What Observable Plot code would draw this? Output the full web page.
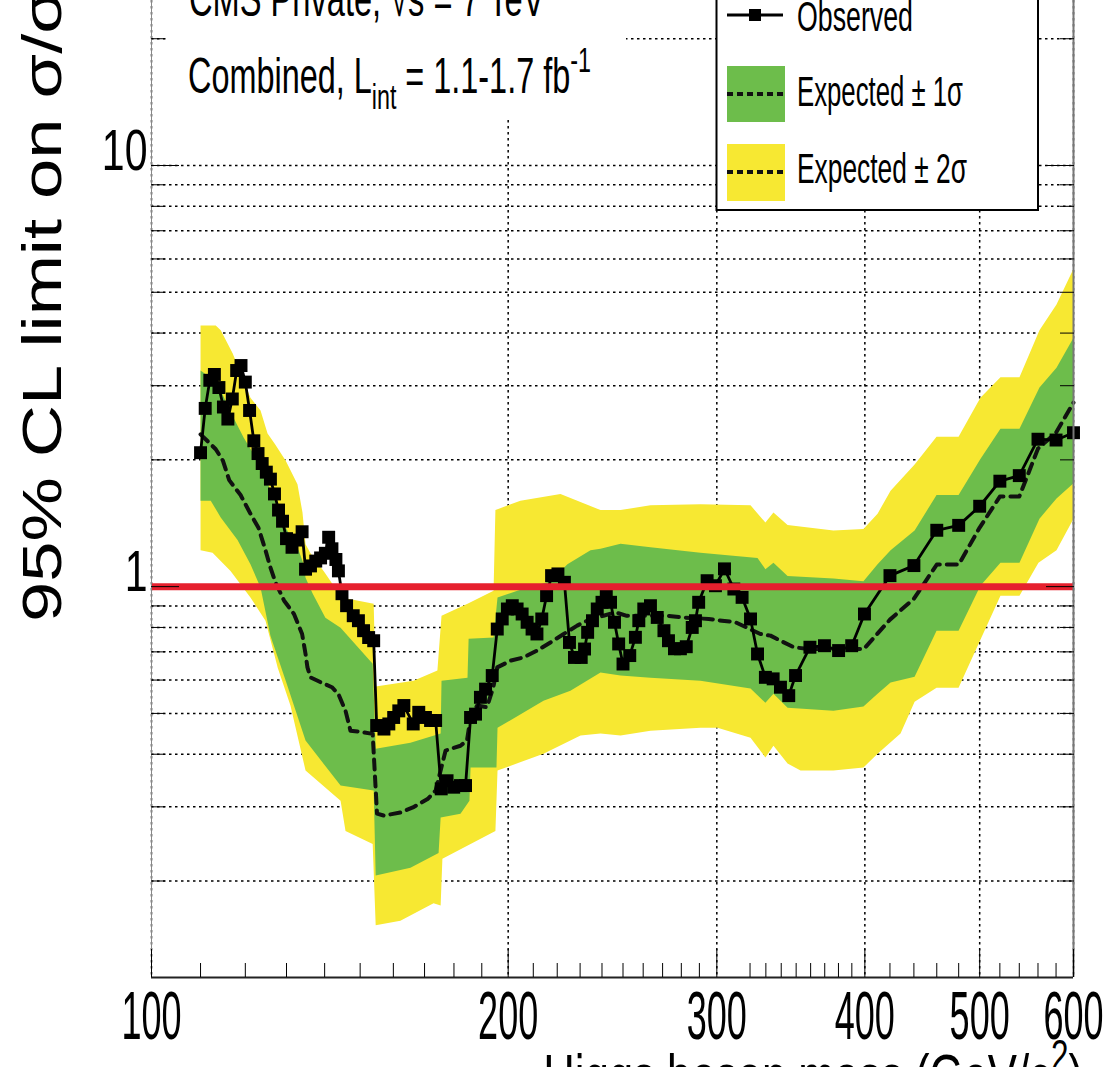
<!DOCTYPE html>
<html><head><meta charset="utf-8">
<script src="https://cdn.jsdelivr.net/npm/d3@7"></script>
<script src="https://cdn.jsdelivr.net/npm/@observablehq/plot@0.6"></script>
<style>
html,body{margin:0;padding:0;background:#fff;overflow:hidden;}
#chart{position:relative;width:1118px;height:1067px;overflow:hidden;}
</style></head><body><div id="chart"></div>
<script>
// ---------- axis settings ----------
const xDomain = [100, 600];
const yDomain = [0.118, 24.65];
const xMajorTicks = [100, 200, 300, 400, 500, 600];
const xMinorTicks = [110,120,130,140,150,160,170,180,190,210,220,230,240,250,260,270,280,290,320,330,340,350,360,370,380,390,420,440,460,480,520,540,560,580];
const yMajorTicks = [1, 10];
const yMinorTicks = [0.2,0.3,0.4,0.5,0.6,0.7,0.8,0.9,2,3,4,5,6,7,8,9,20];

// ---------- observed limit ----------
const obsMass = [110,111,112,113,114,115,116,117,118,119,120,121,122,123,124,125,126,127,128,129,130,131.4,132.7,134,134.9,136.2,137.6,138.9,140.2,141.1,142,143.1,143.8,144.8,146.1,148,149.5,151,152.5,154,
154.9,157.1,158.6,160.1,161.7,163.3,166.3,168.1,170.3,172,173.7,175.6,177.6,179.9,182.3,184.1,185.9,187.7,189.5,191.4,193.9,195.8,197.7,199.7,
201.6,203.5,205.5,207.5,209.5,211.5,213.5,215.5,217.6,220.3,223.1,225.3,227.5,230.5,232,233.4,235.6,237.8,240,242,244,245.9,247.9,250,253.3,256.1,257.8,260.3,263.7,267.2,270.7,273.1,276.3,279.5,282.7,286,287.8,289.6,294.4,299.2,
304.5,310.1,315.1,320.3,324.7,329.7,334.7,339.5,345,349.6,359.5,369.8,380.1,389.9,399.7,420,440,460,480,500,520,540,560,580,600];
const obsLimit = [2.08,2.65,3.09,3.19,2.97,2.67,2.50,2.79,3.26,3.35,3.06,2.62,2.22,2.07,1.96,1.87,1.80,1.66,1.52,1.43,1.30,1.24,1.29,1.35,1.10,1.12,1.15,1.17,1.20,1.31,1.23,1.16,1.09,0.962,0.901,0.853,0.830,0.786,0.757,0.744,
0.468,0.459,0.472,0.489,0.507,0.522,0.472,0.503,0.489,0.481,0.481,0.331,0.346,0.334,0.337,0.337,0.489,0.498,0.546,0.571,0.615,0.793,0.838,0.885,
0.901,0.885,0.861,0.823,0.793,0.772,0.838,0.952,1.062,1.072,1.024,0.737,0.679,0.679,0.711,0.779,0.830,0.885,0.918,0.96,0.918,0.823,0.731,0.655,0.686,0.758,0.830,0.885,0.901,0.845,0.786,0.744,0.712,0.712,0.720,0.80,0.830,0.918,1.033,1.005,
1.102,0.987,0.943,0.838,0.692,0.609,0.604,0.577,0.551,0.615,0.718,0.724,0.705,0.724,0.861,1.062,1.122,1.361,1.398,1.552,1.780,1.835,2.239,2.229,2.32];

// ---------- expected (median) limit ----------
const expMass = [110,113.3,114.9,116.3,118.9,121.2,123.1,124.8,126,127.3,129.4,131.9,134,134.9,135.4,136.2,138.9,142,143.8,145.8,147.2,151,153.7,
155,157.1,162.3,166.2,171,173.7,177.1,182.3,184.6,185.9,188.3,191.9,194.3,195.8,200.9,206,211.5,217.1,222.8,228.7,234.7,240.7,246.4,251.5,272.5,280.6,295.3,303,311.1,326.5,333,339.5,348.4,358.6,376.5,399.2,420,440,460,480,500,520,540,560,580,600];
const expLimit = [2.30,2.12,1.99,1.79,1.65,1.49,1.38,1.22,1.11,1.02,0.926,0.861,0.772,0.692,0.643,0.609,0.593,0.577,0.556,0.507,0.455,0.451,0.447,
0.289,0.286,0.291,0.299,0.313,0.328,0.408,0.419,0.431,0.489,0.522,0.517,0.577,0.643,0.667,0.679,0.705,0.737,0.772,0.808,0.838,0.853,0.869,0.853,0.853,0.845,0.838,0.830,0.823,0.772,0.765,0.744,0.718,0.711,0.711,0.711,0.835,0.936,1.128,1.128,1.381,1.636,1.636,2.127,2.322,2.735];

// ---------- +2 sigma edge ----------
const up2Mass = [110,113.3,114.4,117.1,121.2,123.6,125.3,127.1,129.8,132.8,134.1,134.9,136.2,140,144.7,154.0,154.6,166.4,174.3,175.7,184.8,194.4,195.1,204.8,221.4,239.3,248.8,263.7,290.6,320.3,329.7,334.9,344.2,376.3,398.9,410.0,420.5,440.6,459.8,479.9,500.7,520.6,540.2,561.6,580.5,600];
const up2Limit = [4.17,4.17,4.06,3.58,2.81,2.62,2.31,2.18,1.99,1.75,1.50,1.26,1.20,1.08,0.942,0.911,0.579,0.598,0.632,0.853,0.911,0.978,1.52,1.60,1.66,1.52,1.52,1.56,1.57,1.56,1.42,1.50,1.40,1.36,1.37,1.49,1.69,1.95,2.27,2.27,2.81,3.14,3.14,4.06,4.68,5.69];
// ---------- +1 sigma edge ----------
const up1Mass = [110,113.7,116.2,119.6,122.9,125.3,127.3,129.8,133.1,134.4,134.9,136.8,140.2,144.4,153.7,154.6,165.4,175.4,175.7,184.8,185.2,194.4,195.9,203.6,217.1,224.4,234.7,239.3,248.8,263.7,290.6,324.7,329.7,334.9,344.2,376.3,398.9,410.0,420.5,440.6,459.8,479.9,500.7,520.6,540.2,561.6,580.5,600];
const up1Limit = [3.26,3.05,2.65,2.26,1.99,1.76,1.58,1.38,1.22,1.13,1.05,0.962,0.844,0.799,0.656,0.412,0.426,0.448,0.598,0.608,0.752,0.757,0.942,0.978,1.03,1.13,1.22,1.23,1.265,1.24,1.204,1.17,1.10,1.14,1.06,1.045,1.03,1.13,1.22,1.36,1.65,1.65,2.01,2.37,2.37,2.97,3.31,3.90];
// ---------- -1 sigma edge ----------
const dn1Mass = [110,112.2,114.4,118.2,121.2,123.6,126.0,129.8,134.9,144.4,154.0,154.6,165.4,174.7,175.4,182.3,185.5,185.9,195.5,195.9,214.2,225.7,239.3,248.8,263.7,290.6,320.3,329.7,334.9,344.2,376.3,398.9,410.0,420.5,440.6,459.8,479.9,500.7,520.6,540.2,561.6,580.5,600];
const dn1Limit = [1.60,1.60,1.46,1.29,1.13,0.995,0.765,0.598,0.431,0.337,0.328,0.206,0.215,0.233,0.283,0.289,0.310,0.372,0.372,0.462,0.536,0.566,0.625,0.615,0.608,0.598,0.573,0.530,0.557,0.516,0.507,0.519,0.557,0.592,0.611,0.786,0.786,1.005,1.14,1.14,1.45,1.62,1.76];
// ---------- -2 sigma edge ----------
const dn2Mass = [110,112.6,116.6,121.2,124.8,127.8,131.0,134.9,144.4,145.8,153.7,154.6,162.2,173.0,175.4,176.0,195.1,195.9,214.2,230.2,239.3,248.8,263.7,290.6,300.4,320.3,329.7,334.9,344.2,353.0,376.3,398.9,410.0,428.7,440.6,459.8,479.9,500.7,520.6,540.2,560.5,580.5,600];
const dn2Limit = [1.22,1.204,1.09,0.942,0.830,0.642,0.522,0.366,0.310,0.263,0.245,0.157,0.161,0.177,0.175,0.226,0.263,0.366,0.401,0.443,0.448,0.443,0.455,0.462,0.462,0.438,0.393,0.419,0.380,0.366,0.366,0.372,0.401,0.448,0.533,0.575,0.575,0.748,0.952,0.952,1.14,1.22,1.45];

// ---------- build tables ----------
const pts = (ms, vs) => ms.map((m, i) => ({m, v: vs[i]}));
const observed = pts(obsMass, obsLimit);
const expected = pts(expMass, expLimit);
const band2 = [...pts(up2Mass, up2Limit), ...pts(dn2Mass, dn2Limit).reverse()];
const band1 = [...pts(up1Mass, up1Limit), ...pts(dn1Mass, dn1Limit).reverse()];

const FONT = "'Liberation Sans', Arial, Helvetica, sans-serif";
const YELLOW = "#f7e832", GREEN = "#6dbd4b", RED = "#e6202e";
const dotted = {stroke: "#000", strokeWidth: 1.5, strokeDasharray: "2.5,3.5"};

const chart = Plot.plot({
  width: 1118, height: 1067,
  marginLeft: 151, marginRight: 45, marginTop: 0, marginBottom: 90,
  x: {type: "log", domain: xDomain, label: null},
  y: {type: "log", domain: yDomain, label: null},
  style: {fontFamily: FONT, background: "white", color: "#000"},
  marks: [
    Plot.ruleY([...yMinorTicks, ...yMajorTicks], dotted),
    Plot.ruleX(xMajorTicks, dotted),
    Plot.line(band2, {x: "m", y: "v", fill: YELLOW, stroke: "none"}),
    Plot.line(band1, {x: "m", y: "v", fill: GREEN, stroke: "none"}),
    Plot.line(expected, {x: "m", y: "v", stroke: "#111", strokeWidth: 4, strokeDasharray: "10,7"}),
    Plot.line(observed, {x: "m", y: "v", stroke: "#000", strokeWidth: 2.8}),
    Plot.dot(observed, {x: "m", y: "v", symbol: "square", r: 7.3, fill: "#000", stroke: null}),
    Plot.ruleY([1], {stroke: RED, strokeWidth: 7}),
    Plot.ruleX([xDomain[0]], {stroke: "#888", strokeWidth: 1}),
    Plot.ruleX([xDomain[1]], {stroke: "#777", strokeWidth: 2}),
    Plot.ruleY([yDomain[0]], {stroke: "#222", strokeWidth: 2}),
    // ticks
    Plot.axisX(xMinorTicks, {anchor: "bottom", tickSize: -14, tickFormat: () => "", label: null}),
    Plot.axisX(xMajorTicks, {anchor: "bottom", tickSize: -28, tickFormat: () => "", label: null}),
    Plot.axisY(yMinorTicks, {anchor: "left", tickSize: -14, tickFormat: () => "", label: null}),
    Plot.axisY(yMajorTicks, {anchor: "left", tickSize: -28, tickFormat: () => "", label: null}),
    Plot.axisY(yMinorTicks, {anchor: "right", tickSize: -14, tickFormat: () => "", label: null}),
    Plot.axisY(yMajorTicks, {anchor: "right", tickSize: -28, tickFormat: () => "", label: null}),
    // tick labels
    Plot.axisX(xMajorTicks, {anchor: "bottom", tickSize: 0, tickPadding: 18, dy: 43, fontSize: 68, tickFormat: d => String(d), label: null}),
    Plot.axisY(yMajorTicks, {anchor: "left", tickSize: 0, tickPadding: 4, fontSize: 57, dy: 4, tickFormat: d => String(d), label: null})
  ]
});
document.getElementById("chart").append(chart);
const S = d3.select(chart);

function squeeze(sel, s) {
  sel.each(function () {
    let tr = this.getAttribute("transform") || "";
    const x = this.getAttribute("x"), y = this.getAttribute("y");
    if (x !== null || y !== null) {
      tr += ` translate(${+x || 0},${+y || 0})`;
      this.removeAttribute("x"); this.removeAttribute("y");
    }
    this.setAttribute("transform", tr + ` scale(${s},1)`);
  });
}
squeeze(S.selectAll('g[aria-label="x-axis tick label"] text'), 0.53);
squeeze(S.selectAll('g[aria-label="y-axis tick label"] text'), 0.72);

function addText(g, {x, y, size, parts, anchor = "start", width = null, rotate = 0, sy = 1}) {
  const t = g.append("text").attr("font-size", size).attr("text-anchor", anchor).attr("fill", "#000");
  let shift = 0;
  for (const [s, kind] of parts) {
    const ts = t.append("tspan").text(s);
    const target = kind === "sub" ? 0.32 * size : kind === "sup" ? -0.42 * size : 0;
    if (target - shift !== 0) ts.attr("dy", target - shift);
    shift = target;
    if (kind) ts.attr("font-size", size * 0.72);
  }
  const w = t.node().getBBox().width;
  const sx = width ? width / w : 1;
  t.attr("transform", `translate(${x},${y}) rotate(${rotate}) scale(${sx},${sy})`);
  return t;
}

const ann = S.append("g").attr("font-family", FONT);
// text pave
ann.append("rect").attr("x", 166).attr("y", -5).attr("width", 460).attr("height", 123).attr("fill", "#fff");
addText(ann, {x: 189, y: 16, size: 50, parts: [["CMS Private, √s = 7 TeV", ""]], width: 356});
addText(ann, {x: 188, y: 93, size: 50, parts: [["Combined, L", ""], ["int", "sub"], [" = 1.1-1.7 fb", ""], ["-1", "sup"]], width: 403});

// legend
const L = ann.append("g");
L.append("rect").attr("x", 716.5).attr("y", -30).attr("width", 321.5).attr("height", 240).attr("fill", "#fff").attr("stroke", "#000").attr("stroke-width", 2);
L.append("line").attr("x1", 727).attr("x2", 783).attr("y1", 15).attr("y2", 15).attr("stroke", "#000").attr("stroke-width", 3);
L.append("rect").attr("x", 749).attr("y", 9).attr("width", 12).attr("height", 12).attr("fill", "#000");
addText(L, {x: 797, y: 31, size: 43, parts: [["Observed", ""]], width: 116});
L.append("rect").attr("x", 727).attr("y", 66).attr("width", 58).attr("height", 56).attr("fill", GREEN);
L.append("line").attr("x1", 727).attr("x2", 785).attr("y1", 94).attr("y2", 94).attr("stroke", "#111").attr("stroke-width", 4).attr("stroke-dasharray", "6,4");
addText(L, {x: 797, y: 106, size: 43, parts: [["Expected ± 1σ", ""]], width: 166});
L.append("rect").attr("x", 727).attr("y", 144).attr("width", 58).attr("height", 57).attr("fill", YELLOW);
L.append("line").attr("x1", 727).attr("x2", 785).attr("y1", 172).attr("y2", 172).attr("stroke", "#111").attr("stroke-width", 4).attr("stroke-dasharray", "6,4");
addText(L, {x: 797, y: 183, size: 43, parts: [["Expected ± 2σ", ""]], width: 170});

// axis titles
addText(ann, {x: 61, y: 622, size: 55, rotate: -90, parts: [["95% CL limit on σ/σ", ""], ["SM", "sub"]], width: 711});
addText(ann, {x: 1083, y: 1097, size: 62, anchor: "end", parts: [["Higgs boson mass (GeV/c", ""], ["2", "sup"], [")", ""]], width: 540});
</script></body></html>
